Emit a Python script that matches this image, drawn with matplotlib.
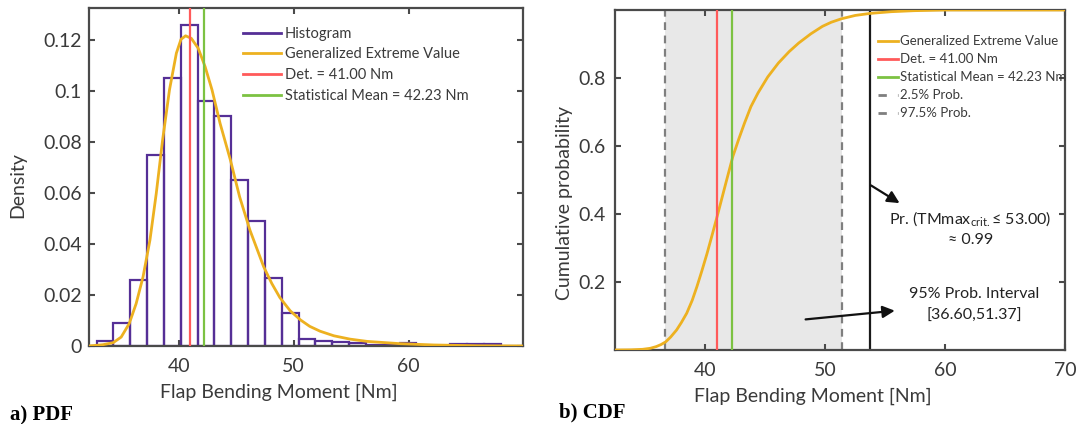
import matplotlib
matplotlib.use("Agg")
import matplotlib.pyplot as plt
from matplotlib.lines import Line2D
import numpy as np

plt.rcParams['font.family'] = ['Lato', 'DejaVu Sans']
plt.rcParams['mathtext.fontset'] = 'custom'
plt.rcParams['mathtext.rm'] = 'Lato'

# ---- data ----
bin_edges = [32.86, 34.32, 35.79, 37.25, 38.72, 40.18, 41.64, 43.11, 44.57, 46.04,
             47.50, 48.96, 50.43, 51.89, 53.36, 54.82, 56.28, 57.75, 59.21, 60.68,
             62.14, 63.60, 65.07, 66.53, 68.00]
hist_density = [0.002, 0.009, 0.026, 0.075, 0.105, 0.126, 0.096, 0.090, 0.065, 0.049,
                0.0265, 0.013, 0.0029, 0.002, 0.0016, 0.001, 0.0005, 0.0003, 0.0013, 0.0,
                0.0, 0.0009, 0.0009, 0.0009]

pdf_x = [32.2, 33.4, 34.3, 35.0, 35.7, 36.3, 36.9, 37.5, 38.05, 38.6, 39.2, 39.8, 40.2,
         40.6, 41.1, 41.7, 42.3, 42.9, 43.6, 44.5, 45.3, 46.2, 47.4, 48.1, 48.8, 49.7,
         50.6, 51.4, 52.3, 53.5, 54.9, 56.4, 59.3, 62.2, 66.0, 70.0]
pdf_y = [0.0, 0.0005, 0.0013, 0.0035, 0.0088, 0.0166, 0.0271, 0.0415, 0.0598, 0.0807,
         0.1004, 0.1148, 0.1202, 0.1216, 0.1206, 0.1167, 0.1095, 0.1004, 0.0873, 0.0729,
         0.0585, 0.0454, 0.031, 0.0245, 0.019, 0.0138, 0.0102, 0.0077, 0.0058, 0.0040,
         0.0027, 0.0018, 0.0009, 0.0004, 0.0001, 0.0]

cdf_x = [32.5, 33.8, 34.76, 35.4, 35.9, 36.3, 36.69, 37.1, 37.6, 38.0, 38.44, 38.9,
         39.29, 39.7, 40.14, 40.6, 41.05, 41.7, 42.29, 42.8, 43.26, 43.8, 44.39, 45.2,
         46.09, 47.0, 47.79, 48.8, 49.77, 50.5, 51.33, 52.5, 53.74, 55.5, 57.4, 60.0,
         70.0]
cdf_y = [0.0, 0.0005, 0.002, 0.005, 0.01, 0.016, 0.024, 0.038, 0.059, 0.081, 0.108,
         0.146, 0.186, 0.232, 0.284, 0.343, 0.402, 0.49, 0.569, 0.622, 0.667, 0.716,
         0.756, 0.803, 0.844, 0.878, 0.903, 0.93, 0.952, 0.964, 0.974, 0.984, 0.99,
         0.995, 0.998, 1.0, 1.0]

det_value = 41.00
mean_value = 42.23
p_low = 36.60
p_high = 51.37
crit_line = 53.75

purple = '#552f96'
orange = '#edb120'
red = '#ff5a5a'
green = '#7cc242'
axcol = '#4a4a4a'
txtcol = '#3a3a3a'


def style_axes(ax):
    for s in ax.spines.values():
        s.set_color(axcol)
        s.set_linewidth(1.6)
    ax.tick_params(direction='in', top=True, right=True, length=4, width=1.5,
                   color=axcol, labelcolor=txtcol, labelsize=14)


fig = plt.figure(figsize=(10.76, 4.24), dpi=100)

# ---- a) PDF ----
ax1 = fig.add_axes([89 / 1076, 1 - 346 / 424, 434 / 1076, 338 / 424])
ax1.bar(bin_edges[:-1], hist_density, width=np.diff(bin_edges), align='edge',
        fill=False, edgecolor=purple, linewidth=1.6, zorder=2)
ax1.plot(pdf_x, pdf_y, color=orange, lw=2, zorder=3)
ax1.axvline(det_value, color=red, lw=1.6, zorder=4)
ax1.axvline(mean_value, color=green, lw=1.6, zorder=4)
ax1.set_xlim(32.2, 69.95)
ax1.set_ylim(0, 0.1325)
ax1.set_xticks([40, 50, 60])
ax1.set_yticks([0, 0.02, 0.04, 0.06, 0.08, 0.1, 0.12])
ax1.set_yticklabels(['0', '0.02', '0.04', '0.06', '0.08', '0.1', '0.12'])
style_axes(ax1)
ax1.tick_params(axis='x', pad=9)
ax1.tick_params(axis='y', pad=5)
ax1.set_xlabel('Flap Bending Moment [Nm]', fontsize=14, color=txtcol)
ax1.set_ylabel('Density', fontsize=14, color=txtcol)
ax1.xaxis.set_label_coords(0.438, -0.112)
ax1.yaxis.set_label_coords(-0.145, 0.476)

h1 = [Line2D([], [], color=purple, lw=2),
      Line2D([], [], color=orange, lw=2),
      Line2D([], [], color=red, lw=2),
      Line2D([], [], color=green, lw=2)]
l1 = ['Histogram', 'Generalized Extreme Value', 'Det. = 41.00 Nm',
      'Statistical Mean = 42.23 Nm']
ax1.legend(h1, l1, loc='upper left', bbox_to_anchor=(0.354, 0.944), frameon=False,
           fontsize=10.5, handlelength=2.6, handletextpad=0.3, labelspacing=0.45,
           borderpad=0, borderaxespad=0, labelcolor=txtcol)

# ---- b) CDF ----
ax2 = fig.add_axes([615 / 1076, 1 - 350 / 424, 450 / 1076, 340 / 424])
ax2.axvspan(p_low, p_high, color='#e8e8e8', zorder=0, lw=0)
ax2.axvline(p_low, color='#7f7f7f', ls=(0, (3.5, 2.5)), lw=1.6, zorder=1)
ax2.axvline(p_high, color='#7f7f7f', ls=(0, (3.5, 2.5)), lw=1.6, zorder=1)
ax2.axvline(crit_line, color='#1a1a1a', lw=1.6, zorder=2)
ax2.plot(cdf_x, cdf_y, color=orange, lw=2, zorder=3)
ax2.axvline(det_value, color=red, lw=1.6, zorder=4)
ax2.axvline(mean_value, color=green, lw=1.6, zorder=4)
ax2.set_xlim(32.46, 70)
ax2.set_ylim(0, 1.0)
ax2.set_xticks([40, 50, 60, 70])
ax2.set_yticks([0.2, 0.4, 0.6, 0.8])
style_axes(ax2)
ax2.tick_params(axis='x', pad=9)
ax2.tick_params(axis='y', pad=7)
ax2.set_xlabel('Flap Bending Moment [Nm]', fontsize=14, color=txtcol)
ax2.set_ylabel('Cumulative probability', fontsize=14, color=txtcol)
ax2.xaxis.set_label_coords(0.44, -0.112)
ax2.yaxis.set_label_coords(-0.094, 0.432)

h2 = [Line2D([], [], color=orange, lw=2),
      Line2D([], [], color=red, lw=2),
      Line2D([], [], color=green, lw=2),
      Line2D([], [], color='#7f7f7f', lw=2, ls=(0, (3, 4))),
      Line2D([], [], color='#7f7f7f', lw=2, ls=(0, (3, 4)))]
l2 = ['Generalized Extreme Value', 'Det. = 41.00 Nm', 'Statistical Mean = 42.23 Nm',
      '2.5% Prob.', '97.5% Prob.']
ax2.legend(h2, l2, loc='upper left', bbox_to_anchor=(0.584, 0.926), frameon=False,
           fontsize=9.5, handlelength=1.5, handletextpad=0.15, labelspacing=0.46,
           borderpad=0, borderaxespad=0, labelcolor=txtcol)

arrow = dict(arrowstyle='-|>', color='#111111', lw=1.6, mutation_scale=18,
             shrinkA=0, shrinkB=0)
ax2.annotate('', xy=(56.2, 0.432), xytext=(53.82, 0.484), arrowprops=arrow)
ax2.annotate('', xy=(55.8, 0.1156), xytext=(48.36, 0.090), arrowprops=arrow)
ax2.text(62.1, 0.383, r'Pr. (TMmax$_{\mathrm{crit.}}$≤ 53.00)', ha='center',
         va='center', fontsize=11.5, color='#222222')
ax2.text(62.1, 0.324, '≈ 0.99', ha='center', va='center', fontsize=11.5,
         color='#222222')
ax2.text(62.4, 0.164, '95% Prob. Interval', ha='center', va='center', fontsize=11.5,
         color='#222222')
ax2.text(62.4, 0.100, '[36.60,51.37]', ha='center', va='center', fontsize=11.5,
         color='#222222')

fig.text(0.009, 0.021, 'a) PDF', fontsize=15, fontweight='bold',
         family='Liberation Serif', va='center')
fig.text(0.5195, 0.026, 'b) CDF', fontsize=15, fontweight='bold',
         family='Liberation Serif', va='center')

fig.savefig('out.png', dpi=100)
